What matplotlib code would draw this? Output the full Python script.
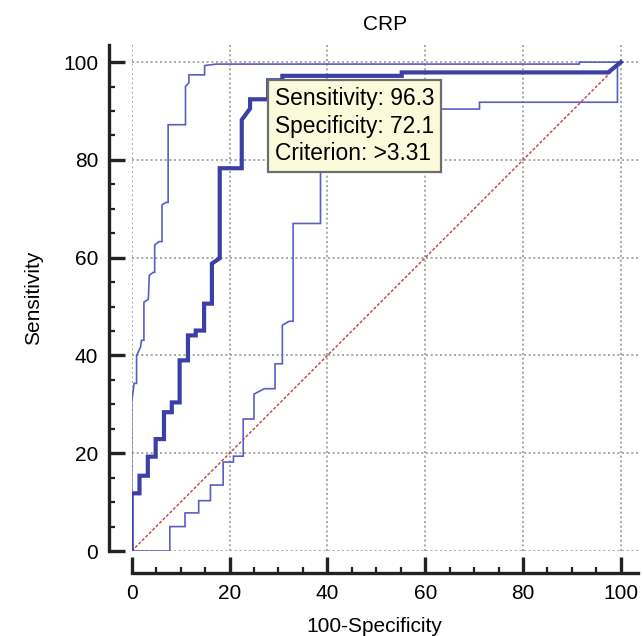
import matplotlib
matplotlib.use("Agg")
import matplotlib.pyplot as plt
from matplotlib.ticker import MultipleLocator

plt.rcParams['font.family'] = ['Liberation Sans', 'DejaVu Sans']

# ROC curve for CRP (x = 100-Specificity, y = Sensitivity), step vertices
roc_x = [0, 0, 1.6, 1.6, 3.3, 3.3, 4.9, 4.9, 6.6, 6.6, 8.2, 8.2, 9.8, 9.8, 11.5, 11.5,
         13.1, 13.1, 14.8, 14.8, 16.4, 16.4, 18.0, 18.0, 22.5, 22.5, 24.2, 24.2, 27.9, 27.9,
         30.8, 30.8, 55.2, 55.2, 97.4, 100]
roc_y = [0, 11.8, 11.8, 15.4, 15.4, 19.3, 19.3, 22.9, 22.9, 28.4, 28.4, 30.4, 30.4, 39.0, 39.0, 44.1,
         44.1, 45.1, 45.1, 50.6, 50.6, 58.8, 59.9, 78.3, 78.3, 88.2, 90.5, 92.4, 92.4, 96.3,
         96.3, 97.2, 97.2, 97.9, 97.9, 100]

# Upper 95% confidence bound
upper_x = [0, 0, 0.5, 1.0, 1.0, 1.8, 2.0, 2.5, 2.5, 3.4, 3.6, 4.4, 4.7, 4.7, 5.6, 6.2, 6.2,
           7.0, 7.45, 7.45, 11.0, 11.0, 11.7, 11.7, 14.9, 14.9, 17.3, 91.5, 91.5, 100]
upper_y = [0, 30.4, 34.3, 34.3, 40.0, 41.7, 43.1, 43.1, 50.9, 51.5, 56.4, 57.0, 57.0, 62.6, 63.3, 63.3, 70.8,
           71.3, 71.3, 87.2, 87.2, 95.0, 95.8, 97.4, 97.4, 99.3, 99.6, 99.6, 100, 100]

# Lower 95% confidence bound
lower_x = [0, 7.8, 7.8, 10.9, 10.9, 13.7, 13.7, 16.1, 16.1, 18.7, 18.7, 20.8, 20.8, 22.8, 22.8,
           25.0, 25.0, 27.1, 29.3, 29.3, 30.8, 30.8, 32.2, 33.0, 33.0, 38.6, 38.6, 71.1, 71.1,
           99.3, 99.3, 100]
lower_y = [0, 0, 5.0, 5.0, 7.8, 7.8, 10.3, 10.3, 13.5, 13.5, 18.2, 18.2, 19.4, 19.4, 27.0,
           27.0, 32.1, 33.2, 33.2, 38.3, 38.3, 46.2, 47.0, 47.0, 67.0, 67.0, 90.4, 90.4, 91.8,
           91.8, 100, 100]

diag = [0, 100]
ticks = [0, 20, 40, 60, 80, 100]

crit_sens = 96.3
crit_spec = 72.1
crit_value = ">3.31"

fig = plt.figure(figsize=(6.43, 6.36), dpi=100)
ax = fig.add_axes([0.2048, 0.1336, 0.7874, 0.7956])

ax.set_xlim(0, 103.5)
ax.set_ylim(0, 103.5)

ax.grid(True, color='#9a9a9a', linestyle=(0, (1.2, 1.6)), linewidth=1.2, zorder=0)
ax.set_axisbelow(True)

ax.plot(diag, diag, color='#c0504d', linestyle=(0, (2, 1.2)), linewidth=1.1, zorder=2)
ax.plot(upper_x, upper_y, color='#5a5ec4', linewidth=1.2, zorder=3, solid_joinstyle='miter')
ax.plot(lower_x, lower_y, color='#5a5ec4', linewidth=1.2, zorder=3, solid_joinstyle='miter')
ax.plot(roc_x, roc_y, color='#3b3fa6', linewidth=3.0, zorder=4, solid_joinstyle='miter')

for s in ['top', 'right']:
    ax.spines[s].set_visible(False)
for s in ['left', 'bottom']:
    ax.spines[s].set_position(('outward', 16))
    ax.spines[s].set_linewidth(2.4)
    ax.spines[s].set_color('#222222')

ax.set_xticks(ticks)
ax.set_yticks(ticks)
ax.xaxis.set_minor_locator(MultipleLocator(5))
ax.yaxis.set_minor_locator(MultipleLocator(5))
ax.tick_params(which='major', direction='in', length=11.5, width=2.4, color='#222222',
               labelsize=15, pad=8)
ax.tick_params(which='minor', direction='in', length=4.5, width=1.6, color='#222222')

ax.set_title('CRP', fontsize=15, pad=11)
ax.set_xlabel('100-Specificity', fontsize=15)
ax.set_ylabel('Sensitivity', fontsize=15)
ax.xaxis.set_label_coords(0.48, -0.131)
ax.yaxis.set_label_coords(-0.175, 0.5)

txt = f"Sensitivity: {crit_sens}\nSpecificity: {crit_spec}\nCriterion: {crit_value}"
ax.annotate(txt, xy=(100 - crit_spec, crit_sens), xytext=(5, -5), textcoords='offset points',
            ha='left', va='top', fontsize=16.4, linespacing=1.25, zorder=6,
            bbox=dict(boxstyle='square,pad=0.3', facecolor='#fbfbdc', edgecolor='#6e6e6e',
                      linewidth=1.6))

fig.savefig('out.png', dpi=100, facecolor='white')
